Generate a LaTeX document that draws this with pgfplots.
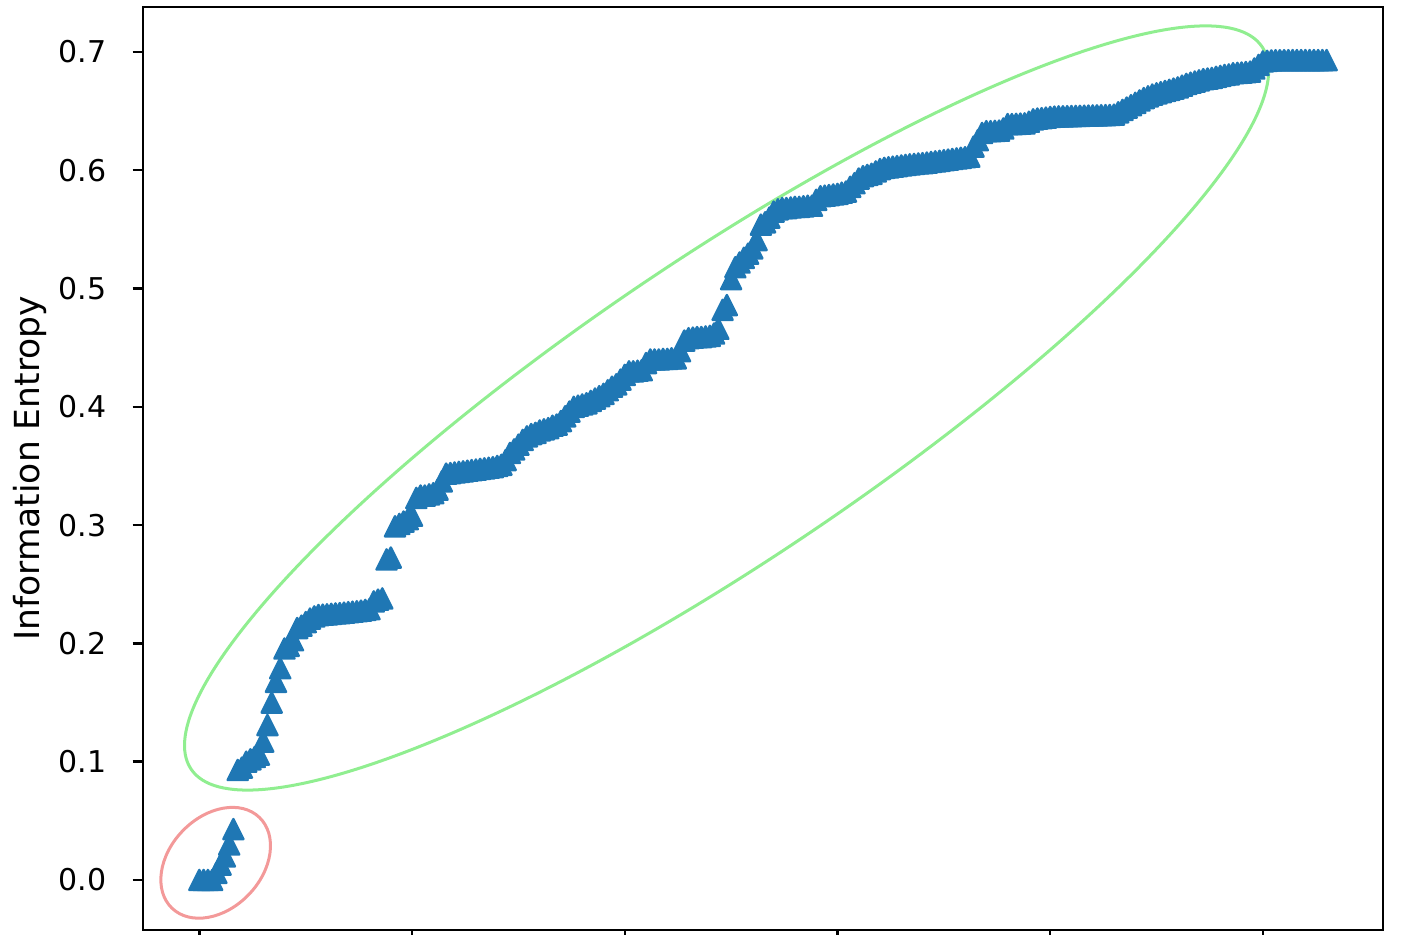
\documentclass[border=0pt]{standalone}
\usepackage{fontspec}
\setmainfont{DejaVu Sans}
\usepackage{pgfplots}
\pgfplotsset{compat=1.18}

\definecolor{mplblue}{HTML}{1F77B4}
\definecolor{lgreen}{HTML}{90EE90}
\definecolor{lcoral}{HTML}{F08080}

% matplotlib-like "^" marker: isosceles, as wide as it is high
\pgfdeclareplotmark{mtri}{%
  \pgfpathmoveto{\pgfqpoint{0pt}{\pgfplotmarksize}}%
  \pgfpathlineto{\pgfqpoint{-\pgfplotmarksize}{-\pgfplotmarksize}}%
  \pgfpathlineto{\pgfqpoint{\pgfplotmarksize}{-\pgfplotmarksize}}%
  \pgfpathclose
  \pgfusepathqfillstroke
}

\begin{document}
\begin{tikzpicture}
\begin{axis}[
  scale only axis, width=413.33pt, height=307.67pt,
  xmin=-13.25, xmax=278.25, ymin=-0.0423, ymax=0.738,
  xtick={0,50,100,150,200,250}, xticklabels={},
  ytick={0,0.1,0.2,0.3,0.4,0.5,0.6,0.7},
  scaled y ticks=false,
  yticklabel style={/pgf/number format/fixed, /pgf/number format/fixed zerofill,
    /pgf/number format/precision=1, anchor=east, inner sep=0pt, xshift=-8.5pt},
  /pgf/number format/assume math mode=true,
  tick label style={font=\fontsize{10}{12}\selectfont},
  tick align=outside, tick pos=left, major tick length=3.5pt,
  every tick/.style={black, line width=0.8pt},
  axis line style={line width=0.8pt},
  ylabel={Information Entropy},
  every axis y label/.style={at={(rel axis cs:-0.0912,0.5)}, rotate=90, anchor=center,
    font=\fontsize{11.5}{13}\selectfont},
]
\addplot[only marks, mark=mtri, mark size=3.35pt, color=mplblue,
  mark options={fill=mplblue, draw=mplblue, line width=0.8pt, line join=round}]
  table {
x y
0 0.000
1 0.000
2 0.000
3 0.000
4 0.006
5 0.013
6 0.020
7 0.030
8 0.043
9 0.093
10 0.095
11 0.100
12 0.102
13 0.104
14 0.106
15 0.117
16 0.131
17 0.150
18 0.1675
19 0.179
20 0.1957
21 0.198
22 0.2027
23 0.213
24 0.215
25 0.218
26 0.221
27 0.2228
28 0.224
29 0.2243
30 0.2246
31 0.2250
32 0.2253
33 0.2256
34 0.2260
35 0.2264
36 0.2268
37 0.2272
38 0.2277
39 0.2283
40 0.2290
41 0.2355
42 0.2370
43 0.2380
44 0.2710
45 0.2726
46 0.2990
47 0.3010
48 0.3030
49 0.3050
50 0.3080
51 0.3230
52 0.3250
53 0.3250
54 0.3260
55 0.3270
56 0.3300
57 0.3370
58 0.3435
59 0.3440
60 0.3445
61 0.3450
62 0.3455
63 0.3460
64 0.3465
65 0.3470
66 0.3475
67 0.3480
68 0.3485
69 0.3490
70 0.3500
71 0.3510
72 0.3550
73 0.3610
74 0.3640
75 0.3680
76 0.3720
77 0.3750
78 0.3770
79 0.3780
80 0.3800
81 0.3810
82 0.3820
83 0.3840
84 0.3850
85 0.3880
86 0.3920
87 0.3960
88 0.4000
89 0.4010
90 0.4020
91 0.4030
92 0.4050
93 0.4070
94 0.4090
95 0.4110
96 0.4140
97 0.4170
98 0.4190
99 0.4230
100 0.4270
101 0.4300
102 0.4300
103 0.4305
104 0.4310
105 0.4370
106 0.4400
107 0.4400
108 0.4400
109 0.4405
110 0.4405
111 0.4410
112 0.4410
113 0.4470
114 0.4560
115 0.4580
116 0.4585
117 0.4590
118 0.4590
119 0.4595
120 0.4600
121 0.4620
122 0.4660
123 0.4820
124 0.4860
125 0.5080
126 0.5180
127 0.5220
128 0.5260
129 0.5295
130 0.5340
131 0.5410
132 0.5540
133 0.5560
134 0.5600
135 0.5650
136 0.5670
137 0.5680
138 0.5680
139 0.5685
140 0.5690
141 0.5690
142 0.5695
143 0.5700
144 0.5700
145 0.5750
146 0.5780
147 0.5785
148 0.5790
149 0.5795
150 0.5800
151 0.5810
152 0.5820
153 0.5860
154 0.5890
155 0.5930
156 0.5950
157 0.5960
158 0.5970
159 0.5990
160 0.6010
161 0.6020
162 0.6025
163 0.6030
164 0.6035
165 0.6040
166 0.6045
167 0.6050
168 0.6053
169 0.6057
170 0.6060
171 0.6065
172 0.6070
173 0.6075
174 0.6080
175 0.6085
176 0.6090
177 0.6095
178 0.6100
179 0.6105
180 0.6110
181 0.6115
182 0.6200
183 0.6254
184 0.6315
185 0.6330
186 0.6330
187 0.6333
188 0.6335
189 0.6353
190 0.6390
191 0.6390
192 0.6392
193 0.6394
194 0.6396
195 0.6410
196 0.6430
197 0.6437
198 0.6440
199 0.6445
200 0.6450
201 0.6453
202 0.6455
203 0.6456
204 0.6457
205 0.6458
206 0.6459
207 0.6460
208 0.6461
209 0.6462
210 0.6463
211 0.6464
212 0.6465
213 0.6466
214 0.6467
215 0.6470
216 0.6490
217 0.6510
218 0.6530
219 0.6550
220 0.6570
221 0.6590
222 0.6610
223 0.6625
224 0.6640
225 0.6650
226 0.6660
227 0.6670
228 0.6680
229 0.6690
230 0.6700
231 0.6715
232 0.6730
233 0.6740
234 0.6750
235 0.6760
236 0.6770
237 0.6775
238 0.6780
239 0.6790
240 0.6797
241 0.6805
242 0.6810
243 0.6820
244 0.6823
245 0.6826
246 0.6830
247 0.6834
248 0.6860
249 0.6890
250 0.6920
251 0.6925
252 0.6928
253 0.6930
254 0.6930
255 0.6930
256 0.6930
257 0.6931
258 0.6931
259 0.6931
260 0.6931
261 0.6931
262 0.6931
263 0.6931
264 0.6931
265 0.6931
};
% highlight ellipses
\draw[lcoral, draw opacity=0.8, line width=1pt, rotate around={46:(axis cs:3.83,0.01454)}]
  (axis cs:3.83,0.01454) ellipse [x radius=21pt, y radius=15.3pt];
\draw[lgreen, line width=1pt, rotate around={34:(axis cs:123.94,0.399)}]
  (axis cs:123.94,0.399) ellipse [x radius=215.3pt, y radius=50pt];
\coordinate (sw) at (rel axis cs:0,0);
\coordinate (ne) at (rel axis cs:1,1);
\end{axis}
\pgfresetboundingbox
\useasboundingbox ([xshift=-47.67pt,yshift=-1.33pt]sw) rectangle ([xshift=9pt,yshift=2.33pt]ne);
\end{tikzpicture}
\end{document}
